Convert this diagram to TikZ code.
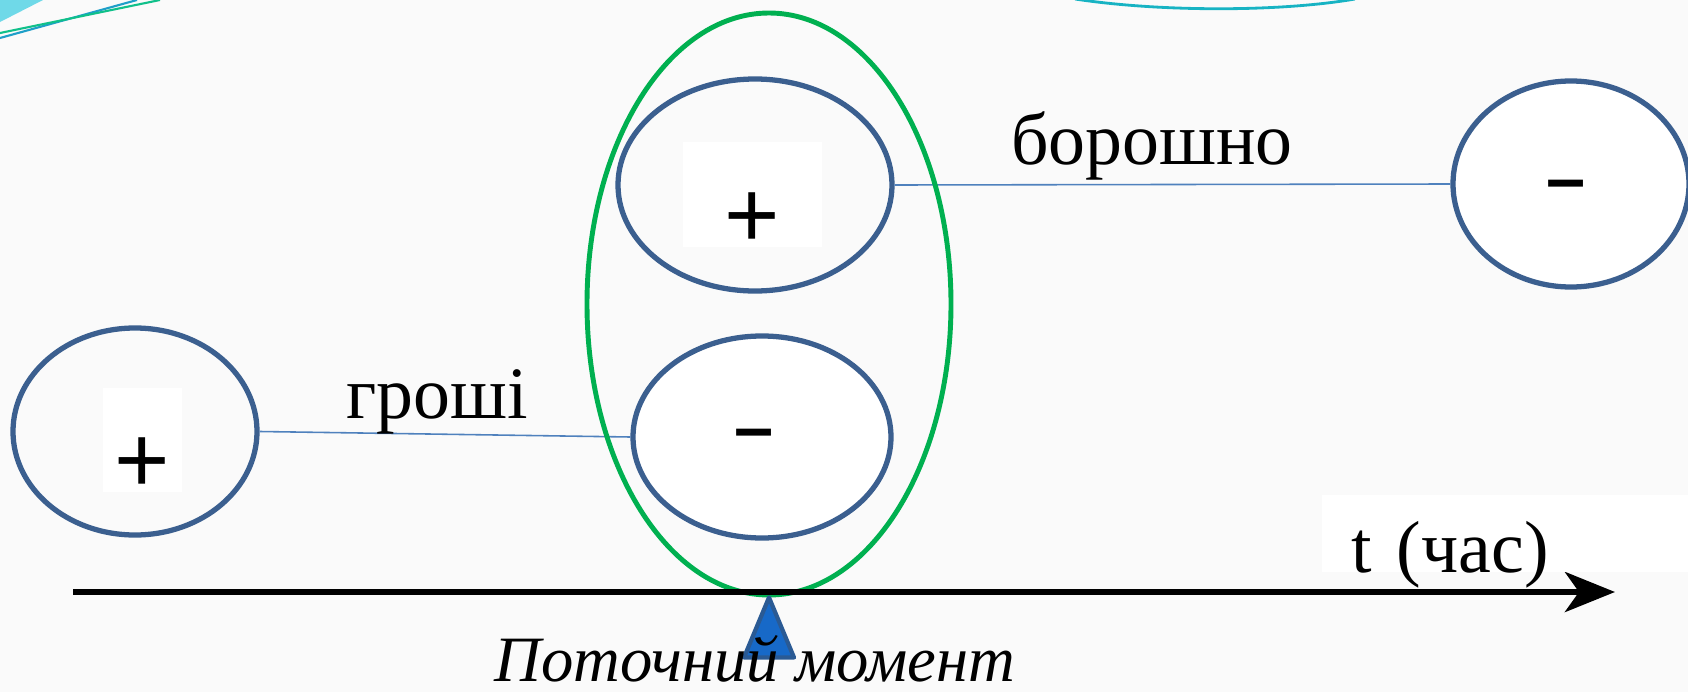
\documentclass[tikz,border=0pt]{standalone}
\usepackage{fontspec}
\setmainfont{Liberation Serif}
\newfontfamily\signfont{Liberation Sans}
\usetikzlibrary{shapes.geometric,arrows.meta}
\definecolor{ovalblue}{HTML}{3B5F8F}
\definecolor{linkblue}{HTML}{4F81BD}
\definecolor{nowgreen}{HTML}{00B050}
\definecolor{pinfill}{HTML}{1769C8}
\definecolor{pinline}{HTML}{2A5A94}
\definecolor{slidebg}{HTML}{FAFAFA}
\definecolor{decocyan}{HTML}{6FD9E8}
\definecolor{decoblue}{HTML}{1E9FC8}
\definecolor{decogreen}{HTML}{10C08A}
\definecolor{decoteal}{HTML}{17B3C3}
\begin{document}
\begin{tikzpicture}[
    oval/.style={draw=ovalblue, line width=1.5pt, ellipse, inner sep=0pt},
    sign/.style={fill=white, inner sep=0pt, text depth=0pt, font=\signfont\fontsize{27}{27}\selectfont},
    minus/.style={inner sep=0pt, font=\signfont\bfseries\fontsize{20}{20}\selectfont},
    word/.style={inner sep=0pt, font=\fontsize{21}{21}\selectfont},
    link/.style={draw=linkblue, line width=0.45pt}]
    \path[use as bounding box, fill=slidebg] (0,0) rectangle (16.88,6.92);
    % slide decoration
    \fill[decocyan] (0,6.92) -- (0.43,6.92) -- (0,6.70) -- cycle;
    \draw[decoblue, line width=0.6pt] (0,6.54) -- (1.37,6.92);
    \draw[decogreen, line width=0.6pt] (0,6.59) -- (1.60,6.92);
    \draw[decoteal, line width=0.8pt] (10.75,6.93) .. controls (11.6,6.80) and (12.8,6.80) .. (13.55,6.93);
    % ovals
    \node (give) [oval, minimum width=2.44cm, minimum height=2.07cm] at (1.35,2.605) {};
    \node (gain) [oval, minimum width=2.74cm, minimum height=2.12cm] at (7.55,5.07) {};
    \node (owe) [oval, fill=white, minimum width=2.58cm, minimum height=2.02cm] at (7.62,2.55) {};
    \node (get) [oval, fill=white, minimum width=2.36cm, minimum height=2.06cm] at (15.71,5.08) {};
    % signs
    \node (giveplus) [sign, anchor=base, minimum width=0.79cm, text height=1.04cm] at (1.425,2.00) {+};
    \node (gainplus) [sign, anchor=base, minimum width=1.39cm, text height=1.05cm] at (7.525,4.45) {+};
    \node (oweminus) [minus, anchor=base] at (7.54,2.41) {–};
    \node (getminus) [minus, anchor=base] at (15.66,4.90) {–};
    % flows
    \draw[link] (give.east) -- (owe.west);
    \draw[link] (gain.east) -- (get.west);
    \node (money) [word, anchor=base] at (4.37,2.74) {гроші};
    \node (flour) [word, anchor=base] at (11.52,5.28) {борошно};
    % current moment
    \node (now) [draw=nowgreen, line width=1.4pt, ellipse, inner sep=0pt, minimum width=3.64cm, minimum height=5.82cm] at (7.69,3.88) {};
    \coordinate (axisstart) at (0.73,1.00);
    \coordinate (axisend) at (16.15,1.00);
    \draw[line width=1.85pt, -{Stealth[length=0.5cm, width=0.4cm, inset=0.14cm]}] (axisstart) -- (axisend);
    \node (time) [word, anchor=base west, fill=white, text depth=0pt, text height=0.77cm, inner xsep=0.30cm, text width=3.6cm, align=left] at (13.21,1.20) {t (час)};
    \draw[fill=pinfill, draw=pinline, line width=1.2pt, line join=round] (now.south) -- ++(0.25,-0.60) -- ++(-0.50,0) -- cycle;
    \node (nowtext) [word, anchor=base, font=\itshape\fontsize{18.4}{18.4}\selectfont] at (7.55,0.11) {Поточний момент};
\end{tikzpicture}
\end{document}
